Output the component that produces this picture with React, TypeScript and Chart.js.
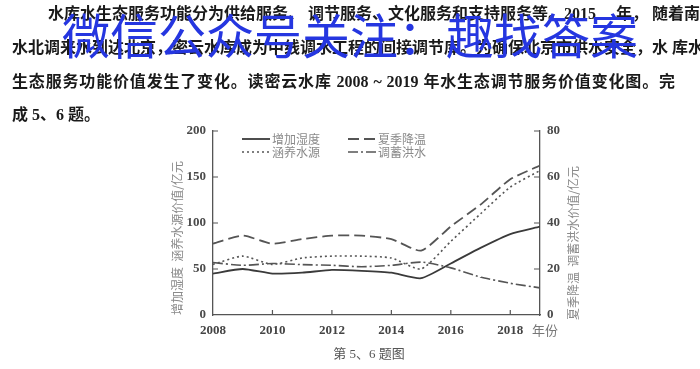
import React, { useEffect, useRef } from "react";
import { Chart, registerables } from "chart.js";

Chart.register(...registerables);

const years = [2008, 2009, 2010, 2011, 2012, 2013, 2014, 2015, 2016, 2017, 2018, 2019];
const humidity = [45, 50, 45, 46, 49, 48, 46, 40, 56, 73, 88, 96];
const waterSource = [55, 64, 55, 62, 64, 64, 62, 50, 80, 110, 139, 157];
const cooling = [31, 34.5, 31, 33, 34.5, 34.5, 33, 28, 38.5, 48, 59, 65];
const floodStorage = [22.8, 21.6, 22.4, 21.9, 21.6, 21, 21.6, 23, 20.5, 16.5, 13.8, 11.8];
const xTickYears = [2008, 2010, 2012, 2014, 2016, 2018];
const leftTicks = [0, 50, 100, 150, 200];
const rightTicks = [0, 20, 40, 60, 80];
const seriesNames = ["增加湿度", "涵养水源", "夏季降温", "调蓄洪水"];
const leftTitle = "增加湿度  涵养水源价值/亿元";
const rightTitle = "夏季降温  调蓄洪水价值/亿元";
const xUnit = "年份";

const paraLines = [
  "水库水生态服务功能分为供给服务、 调节服务、文化服务和支持服务等。2015　 年，  随着南",
  "水北调来水到达北京，密云水库成为中线调水工程的间接调节库。为确保北京市供水安全，水 库水",
  "生态服务功能价值发生了变化。读密云水库 2008 ~ 2019 年水生态调节服务价值变化图。完",
  "成 5、6 题。",
];
const watermark = "微信公众号关注：趣找答案";
const caption = "第 5、6 题图";

const toPts = (arr: number[]) => arr.map((v, i) => ({ x: years[i], y: v }));

const serifFont = '"Liberation Serif", "DejaVu Serif", serif';
const cjkFont = '"Noto Sans CJK SC", sans-serif';

const decorPlugin = {
  id: "decor",
  afterDraw(chart: any) {
    const ctx = chart.ctx;
    const area = chart.chartArea;
    const sx = chart.scales.x;
    const sy = chart.scales.y;
    const sy1 = chart.scales.y1;
    ctx.save();
    ctx.strokeStyle = "#555";
    ctx.lineWidth = 1.2;
    ctx.beginPath();
    leftTicks.forEach((v) => {
      if (v === 0) return;
      const p = sy.getPixelForValue(v);
      ctx.moveTo(area.left, p);
      ctx.lineTo(area.left + 5, p);
    });
    rightTicks.forEach((v) => {
      if (v === 0) return;
      const p = sy1.getPixelForValue(v);
      ctx.moveTo(area.right - 6, p);
      ctx.lineTo(area.right, p);
    });
    xTickYears.forEach((v) => {
      if (v === 2008) return;
      const p = sx.getPixelForValue(v);
      ctx.moveTo(p, area.bottom);
      ctx.lineTo(p, area.bottom - 5);
    });
    ctx.stroke();

    ctx.fillStyle = "#8a8a8a";
    ctx.font = "12px " + cjkFont;
    ctx.textAlign = "center";
    ctx.textBaseline = "middle";
    ctx.save();
    ctx.translate(177, 238);
    ctx.rotate(-Math.PI / 2);
    ctx.fillText(leftTitle, 0, 0);
    ctx.restore();
    ctx.save();
    ctx.translate(573, 243);
    ctx.rotate(-Math.PI / 2);
    ctx.fillText(rightTitle, 0, 0);
    ctx.restore();

    ctx.fillStyle = "#777";
    ctx.font = "13px " + cjkFont;
    ctx.textAlign = "left";
    ctx.fillText(xUnit, 532, 330);

    const dsets = chart.data.datasets;
    const slots = [
      { x: 242, y: 139 },
      { x: 242, y: 152 },
      { x: 348, y: 139 },
      { x: 348, y: 152 },
    ];
    ctx.font = "12px " + cjkFont;
    ctx.textBaseline = "middle";
    dsets.forEach((ds: any, i: number) => {
      const s = slots[i];
      ctx.save();
      ctx.strokeStyle = ds.borderColor;
      ctx.lineWidth = ds.borderWidth;
      ctx.setLineDash(ds.borderDash || []);
      ctx.beginPath();
      ctx.moveTo(s.x, s.y);
      ctx.lineTo(s.x + 28, s.y);
      ctx.stroke();
      ctx.restore();
      ctx.fillStyle = "#8a8a8a";
      ctx.fillText(ds.label, s.x + 30, s.y);
    });
    ctx.restore();
  },
};

export default function App() {
  const ref = useRef<HTMLCanvasElement | null>(null);

  useEffect(() => {
    if (!ref.current) return;
    const tickFont = { family: serifFont, size: 13, weight: "bold" as const };
    const chart = new Chart(ref.current, {
      type: "line",
      data: {
        datasets: [
          {
            label: seriesNames[0],
            data: toPts(humidity),
            yAxisID: "y",
            borderColor: "#3a3a3a",
            borderWidth: 1.8,
            borderDash: [],
            pointRadius: 0,
            tension: 0.2,
            fill: false,
          },
          {
            label: seriesNames[1],
            data: toPts(waterSource),
            yAxisID: "y",
            borderColor: "#555",
            borderWidth: 1.6,
            borderDash: [2, 3],
            pointRadius: 0,
            tension: 0.2,
            fill: false,
          },
          {
            label: seriesNames[2],
            data: toPts(cooling),
            yAxisID: "y1",
            borderColor: "#555",
            borderWidth: 1.8,
            borderDash: [11, 5],
            pointRadius: 0,
            tension: 0.2,
            fill: false,
          },
          {
            label: seriesNames[3],
            data: toPts(floodStorage),
            yAxisID: "y1",
            borderColor: "#555",
            borderWidth: 1.6,
            borderDash: [10, 3, 2, 3],
            pointRadius: 0,
            tension: 0.2,
            fill: false,
          },
        ],
      },
      options: {
        animation: false,
        responsive: false,
        maintainAspectRatio: false,
        events: [],
        layout: { padding: { left: 173, right: 120, top: 131, bottom: 22 } },
        plugins: { legend: { display: false }, tooltip: { enabled: false } },
        scales: {
          x: {
            type: "linear",
            min: 2008,
            max: 2019,
            afterBuildTicks: (s: any) => {
              s.ticks = xTickYears.map((v) => ({ value: v }));
            },
            afterFit: (s: any) => {
              s.height = 32;
            },
            grid: { display: true, drawOnChartArea: false, drawTicks: false },
            border: { display: true, color: "#555", width: 1.3 },
            ticks: {
              font: tickFont,
              color: "#444",
              padding: 8,
              maxRotation: 0,
              autoSkip: false,
              callback: (v: any) => String(v),
            },
          },
          y: {
            position: "left",
            min: 0,
            max: 200,
            afterBuildTicks: (s: any) => {
              s.ticks = leftTicks.map((v) => ({ value: v }));
            },
            afterFit: (s: any) => {
              s.width = 40;
            },
            grid: { display: true, drawOnChartArea: false, drawTicks: false },
            border: { display: true, color: "#555", width: 1.3 },
            ticks: { font: tickFont, color: "#4a4a4a", padding: 7 },
          },
          y1: {
            position: "right",
            min: 0,
            max: 80,
            afterBuildTicks: (s: any) => {
              s.ticks = rightTicks.map((v) => ({ value: v }));
            },
            afterFit: (s: any) => {
              s.width = 40;
            },
            grid: { display: true, drawOnChartArea: false, drawTicks: false },
            border: { display: true, color: "#555", width: 1.3 },
            ticks: { font: tickFont, color: "#4a4a4a", padding: 7 },
          },
        },
      },
      plugins: [decorPlugin],
    } as any);
    return () => chart.destroy();
  }, []);

  const lineTops = [4, 38, 72, 105];
  const lineLefts = [48, 12, 12, 12];
  const lineWidths = [642, 678, 663, 0];

  return (
    <div
      style={{
        position: "absolute",
        left: 0,
        top: 0,
        width: 700,
        height: 369,
        background: "#fff",
        overflow: "hidden",
      }}
    >
      <canvas
        ref={ref}
        width={700}
        height={369}
        style={{ position: "absolute", left: 0, top: 0, width: 700, height: 369 }}
      />
      {paraLines.map((t, i) => (
        <div
          key={i}
          style={{
            position: "absolute",
            left: lineLefts[i],
            top: lineTops[i],
            width: lineWidths[i] || undefined,
            whiteSpace: "nowrap",
            fontFamily: '"Liberation Serif", "Noto Sans CJK SC", serif',
            fontWeight: "bold",
            fontSize: 16,
            lineHeight: "20px",
            color: "#1a1a1a",
            textAlign: lineWidths[i] ? "justify" : "left",
            textAlignLast: lineWidths[i] ? "justify" : "auto",
          } as any}
        >
          {t}
        </div>
      ))}
      <div
        style={{
          position: "absolute",
          left: 62,
          top: 9,
          whiteSpace: "nowrap",
          fontFamily: cjkFont,
          fontSize: 48,
          lineHeight: "48px",
          color: "#2536e0",
          fontWeight: 400,
        }}
      >
        {watermark}
      </div>
      <div
        style={{
          position: "absolute",
          left: 0,
          top: 345,
          width: 700,
          textAlign: "center",
          fontFamily: '"Liberation Serif", "Noto Sans CJK SC", serif',
          fontSize: 13,
          lineHeight: "18px",
          color: "#555",
        }}
      >
        <span style={{ position: "relative", left: 19 }}>{caption}</span>
      </div>
    </div>
  );
}
